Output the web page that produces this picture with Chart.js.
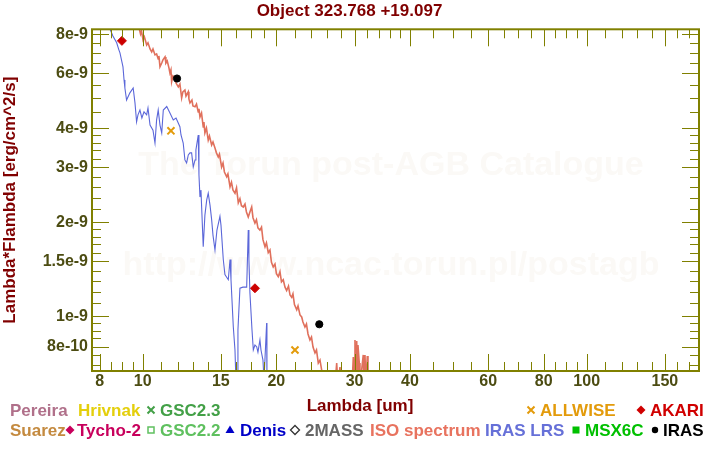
<!DOCTYPE html>
<html>
<head>
<meta charset="utf-8">
<script src="https://cdn.jsdelivr.net/npm/chart.js@4.4.1/dist/chart.umd.min.js"></script>
<style>
  html, body { margin: 0; padding: 0; background: #fff; }
</style>
</head>
<body>
<canvas id="sed" width="720" height="450"></canvas>
<script>
const FONT = '"Liberation Sans", Arial, sans-serif';
const OLIVE = '#808000';
const LABEL_COL = '#4c4c12';
const TITLE_COL = '#800000';
const ISO_COL = '#e0705c';
const LRS_COL = '#5b67d9';

const titleText = 'Object 323.768 +19.097';
const xTitle = 'Lambda [um]';
const yTitle = 'Lambda*Flambda [erg/cm^2/s]';
const watermark = ['The Torun post-AGB Catalogue', 'http://www.ncac.torun.pl/postagb'];

// axis ticks
const xMajor = [8, 10, 15, 20, 30, 40, 60, 80, 100, 150];
const xMajorLabels = ['8', '10', '15', '20', '30', '40', '60', '80', '100', '150'];
const xMinor = [8.5, 9, 9.5, 11, 12, 13, 14, 16.25, 17.5, 18.75, 22, 24, 26, 28, 32, 34, 36, 38,
  45, 50, 55, 65, 70, 75, 85, 90, 95, 110, 120, 130, 140, 160, 170];
const yMajor = [8e-9, 6e-9, 4e-9, 3e-9, 2e-9, 1.5e-9, 1e-9, 8e-10];
const yMajorLabels = ['8e-9', '6e-9', '4e-9', '3e-9', '2e-9', '1.5e-9', '1e-9', '8e-10'];
const yMinor = [7.5e-9, 7e-9, 6.5e-9, 5.5e-9, 5e-9, 4.5e-9, 3.8e-9, 3.6e-9, 3.4e-9, 3.2e-9,
  2.8e-9, 2.6e-9, 2.4e-9, 2.2e-9, 1.9e-9, 1.8e-9, 1.7e-9, 1.6e-9, 1.4e-9, 1.3e-9, 1.2e-9, 1.1e-9,
  9.5e-10, 9e-10, 8.5e-10, 7.5e-10, 7e-10];

// fluxes below are in units of 1e-9 erg/cm^2/s
const FLUX_UNIT = 1e-9;

// ISO spectrum
const isoLambda = [9.83, 9.89, 9.94, 10.02, 10.09, 10.21, 10.28, 10.39, 10.48, 10.55,
  10.66, 10.75, 10.84, 10.88, 10.94, 11.04, 11.11, 11.23, 11.28, 11.36,
  11.46, 11.52, 11.58, 11.62, 11.70, 11.82, 11.89, 12.03, 12.13, 12.24,
  12.32, 12.45, 12.52, 12.67, 12.71, 12.78, 12.91, 12.98, 13.12, 13.22,
  13.34, 13.39, 13.46, 13.57, 13.69, 13.74, 13.81, 13.92, 14.05, 14.14,
  14.30, 14.40, 14.55, 14.66, 14.80, 14.89, 15.06, 15.17, 15.28, 15.46,
  15.56, 15.73, 15.85, 15.97, 16.14, 16.27, 16.42, 16.56, 16.69, 16.85,
  17.00, 17.13, 17.29, 17.44, 17.60, 17.72, 17.90, 18.04, 18.18, 18.37,
  18.52, 18.66, 18.86, 19.00, 19.18, 19.35, 19.50, 19.68, 19.86, 20.01,
  20.20, 20.38, 20.54, 20.73, 20.92, 21.10, 21.30, 21.47, 21.66, 21.80,
  21.97, 22.23, 22.38, 22.61, 22.81, 22.96, 23.20, 23.38, 23.57, 23.81,
  24.00, 24.19, 24.44, 24.63, 24.86, 25.08, 25.30, 25.47, 27.11, 27.35,
  27.53, 27.82, 27.97, 29.61, 29.81, 29.92, 30.07, 30.23, 30.34, 30.46,
  30.54, 30.75, 30.86, 31.39, 31.51, 31.67, 31.84, 32.05, 32.17];
const isoFlux = [8.33, 8.03, 8.21, 7.68, 7.86, 7.40, 7.52, 7.19, 7.03, 7.19,
  6.88, 6.93, 6.68, 6.83, 6.30, 6.48, 6.63, 6.78, 6.48, 6.58,
  6.25, 6.02, 6.16, 5.64, 5.89, 5.80, 5.59, 5.43, 5.55, 5.01,
  5.24, 5.31, 5.08, 5.24, 4.97, 4.83, 4.93, 4.72, 4.69, 4.79,
  4.52, 4.62, 4.35, 4.48, 4.04, 4.19, 3.87, 4.01, 3.67, 3.78,
  3.54, 3.62, 3.46, 3.34, 3.24, 3.31, 3.01, 3.10, 2.90, 2.80,
  2.86, 2.60, 2.69, 2.54, 2.48, 2.58, 2.31, 2.38, 2.26, 2.24,
  2.29, 2.16, 2.08, 2.16, 2.24, 2.07, 1.99, 2.04, 1.92, 1.89,
  1.93, 1.76, 1.67, 1.72, 1.60, 1.63, 1.49, 1.44, 1.47, 1.37,
  1.34, 1.39, 1.29, 1.31, 1.24, 1.21, 1.25, 1.17, 1.15, 1.18,
  1.09, 1.05, 1.08, 1.01, 0.995, 0.959, 0.924, 0.945, 0.878, 0.840,
  0.858, 0.797, 0.763, 0.780, 0.708, 0.724, 0.673, 0.60, 0.60, 0.708,
  0.60, 0.688, 0.60, 0.60, 0.741, 0.60, 0.840, 0.60, 0.833, 0.60,
  0.809, 0.708, 0.60, 0.752, 0.60, 0.752, 0.60, 0.746, 0.60];

// IRAS LRS spectrum
const lrsLambda = [8.44, 8.57, 8.74, 8.84, 8.89, 8.98, 9.03, 9.08, 9.12, 9.20,
  9.36, 9.52, 9.61, 9.69, 9.76, 9.86, 9.96, 10.07, 10.21, 10.28,
  10.39, 10.55, 10.66, 10.75, 10.84, 10.94, 11.04, 11.13, 11.33, 11.52,
  11.72, 11.89, 12.13, 12.20, 12.34, 12.45, 12.56, 12.67, 12.78, 12.89,
  13.00, 13.12, 13.18, 13.34, 13.39, 13.46, 13.53, 13.69, 13.81, 13.94,
  14.05, 14.18, 14.30, 14.40, 14.55, 14.70, 14.93, 15.01, 15.19, 15.32,
  15.59, 15.73, 15.81, 16.00, 16.14, 16.22, 16.33, 16.39, 16.56, 16.82,
  17.15, 17.29, 17.35, 17.44, 17.63, 17.75, 17.90, 18.06, 18.18, 18.37,
  18.47, 18.66, 18.76, 19.02, 19.05];
const lrsFlux = [8.33, 7.91, 7.52, 7.14, 6.98, 6.53, 6.30, 5.72, 5.39, 4.93,
  5.20, 5.39, 4.83, 4.20, 4.42, 4.58, 4.32, 4.52, 4.42, 4.65,
  4.10, 3.95, 3.59, 4.26, 4.58, 4.10, 3.87, 4.58, 4.70, 4.48,
  4.26, 4.32, 4.05, 3.81, 3.59, 3.17, 3.10, 3.29, 3.34, 3.34,
  3.01, 3.17, 3.41, 3.81, 2.84, 2.41, 2.54, 1.67, 2.11, 2.36,
  2.48, 2.27, 2.04, 1.82, 1.63, 1.89, 2.09, 1.96, 1.52, 1.36,
  1.31, 1.52, 1.31, 0.926, 0.780, 0.625, 0.625, 0.904, 1.23, 1.24,
  1.24, 1.89, 1.52, 1.19, 0.904, 0.780, 0.809, 0.799, 0.768, 0.840,
  0.780, 0.724, 0.625, 0.952, 0.625];

// photometry
const allwiseLambda = [11.58, 22.03];
const allwiseFlux = [3.93, 0.780];
const akariLambda = [8.98, 17.90];
const akariFlux = [7.63, 1.23];
const irasLambda = [11.95, 24.99];
const irasFlux = [5.78, 0.943];

const legendItems = [
  { text: 'Pereira', color: '#b0708a', x: 10, row: 0 },
  { text: 'Hrivnak', color: '#e4cf0c', x: 78, row: 0 },
  { text: 'GSC2.3', color: '#43a047', x: 160, row: 0, symbol: 'cross', sx: 151 },
  { text: 'ALLWISE', color: '#e39b0b', x: 540, row: 0, symbol: 'cross', sx: 531 },
  { text: 'AKARI', color: '#d00000', x: 650, row: 0, symbol: 'diamond', sx: 641 },
  { text: 'Suarez', color: '#c48a3f', x: 10, row: 1 },
  { text: 'Tycho-2', color: '#c8005c', x: 77, row: 1, symbol: 'diamond', sx: 70 },
  { text: 'GSC2.2', color: '#5fc05f', x: 160, row: 1, symbol: 'squareOpen', sx: 151 },
  { text: 'Denis', color: '#0000c8', x: 240, row: 1, symbol: 'triangle', sx: 230 },
  { text: '2MASS', color: '#666666', x: 305, row: 1, symbol: 'diamondOpen', sx: 295, symColor: '#333333' },
  { text: 'ISO spectrum', color: '#e8735f', x: 370, row: 1 },
  { text: 'IRAS LRS', color: '#6670d8', x: 485, row: 1 },
  { text: 'MSX6C', color: '#00c000', x: 585, row: 1, symbol: 'square', sx: 576 },
  { text: 'IRAS', color: '#000000', x: 663, row: 1, symbol: 'circle', sx: 655 }
];

const toPoints = (xs, ys) => xs.map((x, i) => ({ x: x, y: ys[i] * FLUX_UNIT }));

function tickList(major, labels, minor) {
  const list = major.map((v, i) => ({ value: v, text: labels[i], major: true }))
    .concat(minor.map(v => ({ value: v, text: '', major: false })));
  return list.sort((a, b) => a.value - b.value);
}

/* === faint catalogue watermark === */
const watermarkPlugin = {
  id: 'watermark',
  beforeDatasetsDraw(chart) {
    const ctx = chart.ctx;
    ctx.save();
    ctx.fillStyle = '#fbf9f6';
    ctx.font = 'bold 34px ' + FONT;
    ctx.textAlign = 'center';
    ctx.textBaseline = 'alphabetic';
    ctx.fillText(watermark[0], 391, 175);
    ctx.fillText(watermark[1], 391, 275);
    ctx.restore();
  }
};

/* === frame + inward ticks on all four sides === */
const framePlugin = {
  id: 'frame',
  afterDatasetsDraw(chart) {
    const { ctx, chartArea: a } = chart;
    const xs = chart.scales.x, ys = chart.scales.y;
    ctx.save();
    ctx.strokeStyle = OLIVE;
    ctx.lineWidth = 1;
    ctx.beginPath();
    tickList(xMajor, xMajorLabels, xMinor).forEach(t => {
      const len = t.major ? 17 : 9;
      const px = Math.round(xs.getPixelForValue(t.value)) + 0.5;
      ctx.moveTo(px, a.bottom); ctx.lineTo(px, a.bottom - len);
      ctx.moveTo(px, a.top); ctx.lineTo(px, a.top + len);
    });
    tickList(yMajor, yMajorLabels, yMinor).forEach(t => {
      const len = t.major ? 17 : 9;
      const py = Math.round(ys.getPixelForValue(t.value)) + 0.5;
      ctx.moveTo(a.left, py); ctx.lineTo(a.left + len, py);
      ctx.moveTo(a.right, py); ctx.lineTo(a.right - len, py);
    });
    ctx.stroke();
    ctx.lineWidth = 2;
    ctx.strokeRect(a.left, a.top, a.right - a.left, a.bottom - a.top);
    ctx.restore();
  }
};

function drawSymbol(ctx, type, x, y, color) {
  ctx.save();
  ctx.fillStyle = color;
  ctx.strokeStyle = color;
  ctx.beginPath();
  if (type === 'cross') {
    ctx.lineWidth = 2;
    ctx.moveTo(x - 3.5, y - 3.5); ctx.lineTo(x + 3.5, y + 3.5);
    ctx.moveTo(x + 3.5, y - 3.5); ctx.lineTo(x - 3.5, y + 3.5);
    ctx.stroke();
  } else if (type === 'diamond' || type === 'diamondOpen') {
    ctx.moveTo(x, y - 4.5); ctx.lineTo(x + 4.5, y); ctx.lineTo(x, y + 4.5); ctx.lineTo(x - 4.5, y);
    ctx.closePath();
    if (type === 'diamond') ctx.fill();
    else { ctx.lineWidth = 1.3; ctx.stroke(); }
  } else if (type === 'squareOpen') {
    ctx.lineWidth = 1.5;
    ctx.strokeRect(x - 3, y - 3, 6, 6);
  } else if (type === 'square') {
    ctx.fillRect(x - 3.5, y - 3.5, 7, 7);
  } else if (type === 'triangle') {
    ctx.moveTo(x, y - 4.5); ctx.lineTo(x + 4.5, y + 3); ctx.lineTo(x - 4.5, y + 3);
    ctx.closePath();
    ctx.fill();
  } else if (type === 'circle') {
    ctx.arc(x, y, 3.2, 0, Math.PI * 2);
    ctx.fill();
  }
  ctx.restore();
}

/* === x title + catalogue legend at the bottom === */
const legendPlugin = {
  id: 'bottomLegend',
  afterDraw(chart) {
    const ctx = chart.ctx;
    ctx.save();
    ctx.textBaseline = 'alphabetic';
    ctx.font = 'bold 17px ' + FONT;
    ctx.fillStyle = TITLE_COL;
    ctx.textAlign = 'center';
    ctx.fillText(xTitle, 360, 411);

    ctx.textAlign = 'left';
    const baselines = [416, 436];
    legendItems.forEach(item => {
      const yb = baselines[item.row];
      if (item.symbol) drawSymbol(ctx, item.symbol, item.sx, yb - 6, item.symColor || item.color);
      ctx.fillStyle = item.color;
      ctx.fillText(item.text, item.x, yb);
    });
    ctx.restore();
  }
};

const tickFont = { family: FONT, size: 16, weight: 'bold' };

new Chart(document.getElementById('sed'), {
  type: 'scatter',
  data: {
    datasets: [
      {
        label: 'AKARI', data: toPoints(akariLambda, akariFlux), order: 0,
        pointStyle: 'rectRot', pointRadius: 4.5, backgroundColor: '#cc0000', borderColor: '#cc0000', borderWidth: 1
      },
      {
        label: 'IRAS', data: toPoints(irasLambda, irasFlux), order: 0,
        pointStyle: 'circle', pointRadius: 3.6, backgroundColor: '#000000', borderColor: '#000000', borderWidth: 1
      },
      {
        label: 'ALLWISE', data: toPoints(allwiseLambda, allwiseFlux), order: 0,
        pointStyle: 'crossRot', pointRadius: 5, borderColor: '#e39b0b', borderWidth: 2
      },
      {
        label: 'IRAS LRS', data: toPoints(lrsLambda, lrsFlux), order: 1,
        showLine: true, pointRadius: 0, borderColor: LRS_COL, borderWidth: 1.1
      },
      {
        label: 'ISO spectrum', data: toPoints(isoLambda, isoFlux), order: 2,
        showLine: true, pointRadius: 0, borderColor: ISO_COL, borderWidth: 1.6
      }
    ]
  },
  options: {
    responsive: false,
    animation: false,
    events: [],
    layout: { padding: { left: 0, right: 21, top: 0, bottom: 0 } },
    plugins: {
      legend: { display: false },
      tooltip: { enabled: false },
      title: {
        display: true, text: titleText, color: TITLE_COL,
        font: { family: FONT, size: 17, weight: 'bold' },
        padding: { top: 1, bottom: 7.9 }
      }
    },
    scales: {
      x: {
        type: 'logarithmic', min: 7.69, max: 179,
        grid: { display: false, drawTicks: false },
        border: { display: false },
        ticks: {
          autoSkip: false, maxRotation: 0, padding: 1, color: LABEL_COL, font: tickFont,
          callback: (v, i, ticks) => ticks[i].text
        },
        afterBuildTicks: s => { s.ticks = tickList(xMajor, xMajorLabels, xMinor); },
        afterFit: s => { s.height = 79; }
      },
      y: {
        type: 'logarithmic', min: 6.68e-10, max: 8.31e-9,
        grid: { display: false, drawTicks: false },
        border: { display: false },
        ticks: {
          autoSkip: false, padding: 4, color: LABEL_COL, font: tickFont,
          callback: (v, i, ticks) => ticks[i].text
        },
        title: {
          display: true, text: yTitle, color: TITLE_COL,
          font: { family: FONT, size: 17, weight: 'bold' },
          padding: { top: 0, bottom: 0 }
        },
        afterBuildTicks: s => { s.ticks = tickList(yMajor, yMajorLabels, yMinor); },
        afterFit: s => { s.width = 92; }
      }
    }
  },
  plugins: [watermarkPlugin, framePlugin, legendPlugin]
});
</script>
</body>
</html>
